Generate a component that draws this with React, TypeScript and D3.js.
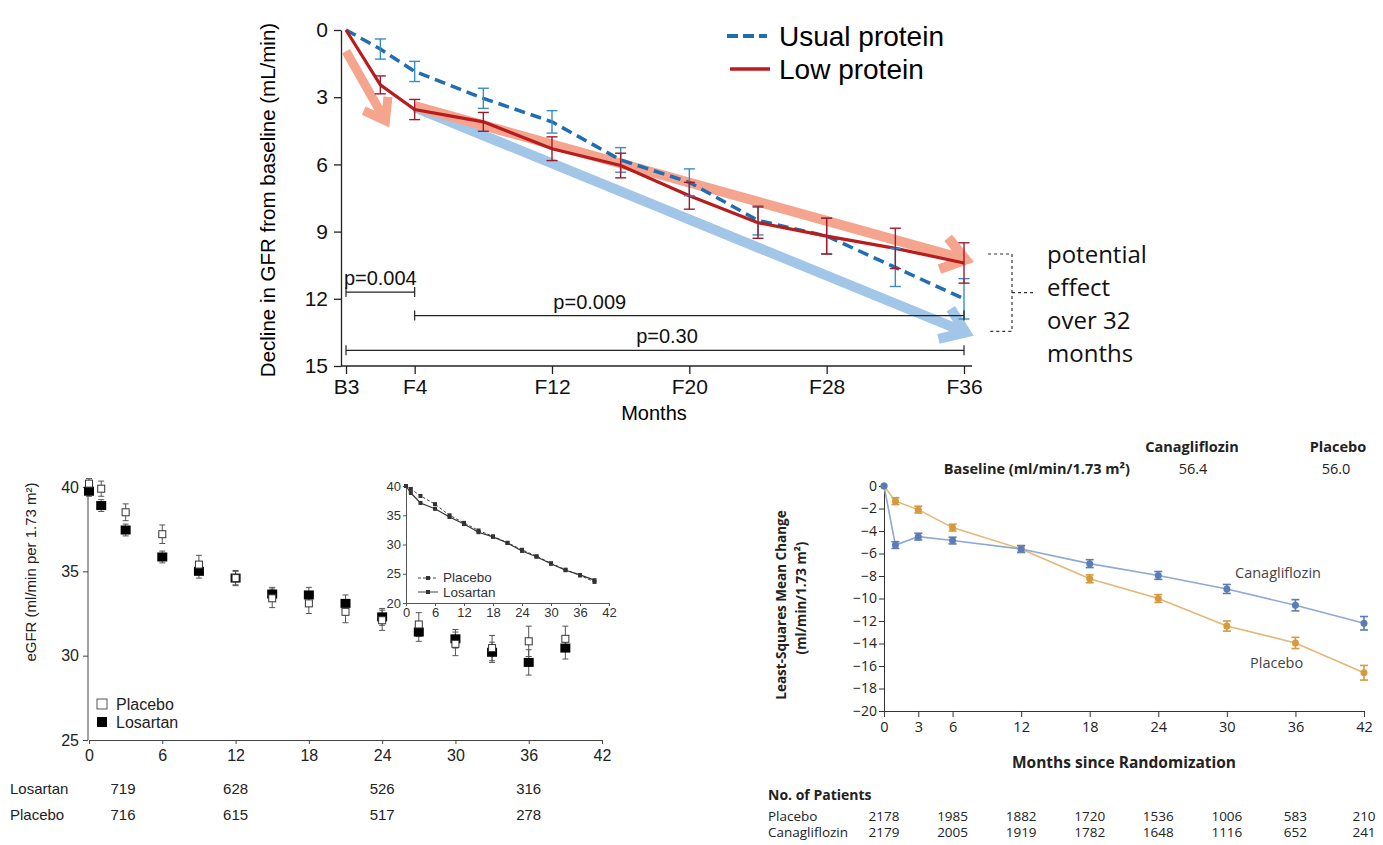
import React, { useRef, useEffect } from 'react'
import * as d3 from 'd3'

// ---- top panel: decline in GFR, usual vs low protein
const proteinMonths = [0, 2, 4, 8, 12, 16, 20, 24, 28, 32, 36]
const proteinTicks = [0, 4, 12, 20, 28, 36]
const proteinTickLabels = ['B3', 'F4', 'F12', 'F20', 'F28', 'F36']
const usualProtein = [0, 0.85, 1.85, 3.05, 4.1, 5.8, 6.8, 8.5, 9.2, 10.6, 12.0]
const usualProteinErr = [0, 0.45, 0.45, 0.45, 0.5, 0.55, 0.6, 0.65, 0.8, 0.85, 0.9]
const lowProtein = [0, 2.45, 3.55, 4.1, 5.3, 6.05, 7.4, 8.6, 9.2, 9.75, 10.4]
const lowProteinErr = [0, 0.4, 0.45, 0.42, 0.53, 0.55, 0.6, 0.7, 0.8, 0.9, 0.9]
const pLabels = ['p=0.004', 'p=0.009', 'p=0.30']
const pFrom = [0, 4, 0]
const pTo = [4, 36, 36]
const effectText = ['potential', 'effect', 'over 32', 'months']

// ---- bottom left: eGFR losartan vs placebo
const egfrMonths = [0, 1, 3, 6, 9, 12, 15, 18, 21, 24, 27, 30, 33, 36, 39]
const egfrPlacebo = [40.2, 39.9, 38.5, 37.2, 35.4, 34.6, 33.4, 33.1, 32.6, 32.1, 31.85, 30.7, 30.45, 30.85, 31.0]
const egfrPlaceboErr = [0.3, 0.45, 0.5, 0.55, 0.55, 0.45, 0.55, 0.6, 0.65, 0.6, 0.7, 0.7, 0.75, 0.9, 0.75]
const egfrLosartan = [39.75, 38.9, 37.45, 35.85, 35.0, 34.6, 33.65, 33.6, 33.1, 32.3, 31.4, 31.0, 30.2, 29.6, 30.45]
const egfrLosartanErr = [0.3, 0.35, 0.35, 0.35, 0.4, 0.4, 0.4, 0.45, 0.5, 0.5, 0.55, 0.55, 0.6, 0.75, 0.65]
const insetPlacebo = [40, 39.5, 38.3, 36.9, 35.0, 33.7, 32.4, 31.4, 30.3, 29.1, 28.0, 26.8, 25.7, 24.7, 23.6]
const insetLosartan = [40, 38.8, 37.1, 36.1, 34.7, 33.5, 32.1, 31.3, 30.25, 28.9, 27.9, 26.7, 25.6, 24.8, 23.9]
const riskMonths = [0, 12, 24, 36]
const riskLosartan = [719, 628, 526, 316]
const riskPlacebo = [716, 615, 517, 278]

// ---- bottom right: canagliflozin LS mean change
const canaMonths = [0, 1, 3, 6, 12, 18, 24, 30, 36, 42]
const canaTicks = [0, 3, 6, 12, 18, 24, 30, 36, 42]
const canagliflozin = [0, -5.25, -4.5, -4.85, -5.6, -6.9, -7.95, -9.15, -10.6, -12.2]
const canagliflozinErr = [0, 0.3, 0.3, 0.3, 0.3, 0.35, 0.35, 0.4, 0.5, 0.6]
const canaPlacebo = [0, -1.35, -2.1, -3.7, -5.6, -8.25, -10.0, -12.45, -13.95, -16.6]
const canaPlaceboErr = [0, 0.3, 0.3, 0.3, 0.3, 0.35, 0.35, 0.45, 0.5, 0.65]
const patientMonths = [0, 6, 12, 18, 24, 30, 36, 42]
const patientsPlacebo = [2178, 1985, 1882, 1720, 1536, 1006, 583, 210]
const patientsCana = [2179, 2005, 1919, 1782, 1648, 1116, 652, 241]

const arial = 'Liberation Sans, Arial, sans-serif'
const myriad = 'Open Sans, Lato, sans-serif'

function errBars(g, xs, vals, errs, x, y, color, cap, w) {
  vals.forEach((v, i) => {
    if (!errs[i]) return
    const cx = x(xs[i])
    const y1 = y(v - errs[i]), y2 = y(v + errs[i])
    g.append('line').attr('x1', cx).attr('x2', cx).attr('y1', y1).attr('y2', y2)
      .attr('stroke', color).attr('stroke-width', w)
    ;[y1, y2].forEach(yy => {
      g.append('line').attr('x1', cx - cap).attr('x2', cx + cap).attr('y1', yy).attr('y2', yy)
        .attr('stroke', color).attr('stroke-width', w)
    })
  })
}

function arrow(g, x1, y1, x2, y2, color, width, head) {
  const ang = Math.atan2(y2 - y1, x2 - x1)
  const a1 = ang + Math.PI - 0.62, a2 = ang + Math.PI + 0.62
  g.append('path')
    .attr('d', `M${x1},${y1}L${x2},${y2}M${x2 + head * Math.cos(a1)},${y2 + head * Math.sin(a1)}L${x2},${y2}L${x2 + head * Math.cos(a2)},${y2 + head * Math.sin(a2)}`)
    .attr('stroke', color).attr('stroke-width', width).attr('fill', 'none')
    .attr('stroke-linejoin', 'miter')
}

function drawProtein(g) {
  const x = d3.scaleLinear().domain([0, 36]).range([346, 964])
  const y = d3.scaleLinear().domain([0, 15]).range([30, 366])

  const yAxis = g.append('g').attr('transform', 'translate(341,0)')
    .call(d3.axisLeft(y).tickValues([0, 3, 6, 9, 12, 15]).tickSize(7).tickSizeOuter(0).tickPadding(6))
  yAxis.selectAll('text').attr('font-size', 21).attr('font-family', arial).attr('fill', '#111')
  yAxis.selectAll('line,path').attr('stroke', '#222').attr('stroke-width', 1.3)

  const xAxis = g.append('g').attr('transform', 'translate(0,366)')
    .call(d3.axisBottom(x).tickValues(proteinTicks).tickFormat((d, i) => proteinTickLabels[i]).tickSize(8).tickPadding(5))
  xAxis.select('.domain').remove()
  xAxis.selectAll('text').attr('font-size', 21).attr('font-family', arial).attr('fill', '#111')
  xAxis.selectAll('line').attr('stroke', '#222').attr('stroke-width', 1.3)
  g.append('line').attr('x1', 341).attr('x2', 972).attr('y1', 366).attr('y2', 366)
    .attr('stroke', '#222').attr('stroke-width', 1.3)

  g.append('text').attr('x', 654).attr('y', 420).attr('text-anchor', 'middle')
    .attr('font-family', arial).attr('font-size', 20).text('Months')
  g.append('text').attr('transform', 'translate(275,200) rotate(-90)').attr('text-anchor', 'middle')
    .attr('font-family', arial).attr('font-size', 20.5).text('Decline in GFR from baseline (mL/min)')

  // trend arrows
  arrow(g, x(0), y(0.95), x(2.3), y(4.05), '#f5a48e', 9, 24)
  arrow(g, x(4), y(3.45), x(36.1), y(13.5), '#a2c6e7', 10, 28)
  arrow(g, x(4), y(3.4), x(36.1), y(10.25), '#f5a48e', 10, 28)

  const line = d3.line().x((d, i) => x(proteinMonths[i])).y(d => y(d))
  g.append('path').datum(usualProtein).attr('d', line).attr('fill', 'none')
    .attr('stroke', '#1f6db3').attr('stroke-width', 3.5).attr('stroke-dasharray', '11,6')
  g.append('path').datum(lowProtein).attr('d', line).attr('fill', 'none')
    .attr('stroke', '#b81c1c').attr('stroke-width', 3.2)

  errBars(g, proteinMonths, usualProtein, usualProteinErr, x, y, '#3b8cc4', 5.5, 1.4)
  errBars(g, proteinMonths, lowProtein, lowProteinErr, x, y, '#9e1b2b', 5.5, 1.4)

  // p value brackets
  const levels = [11.7, 12.75, 14.3]
  const labelAt = [2, 14.2, 18.7]
  pLabels.forEach((lab, i) => {
    const yy = y(levels[i])
    g.append('line').attr('x1', x(pFrom[i])).attr('x2', x(pTo[i])).attr('y1', yy).attr('y2', yy)
      .attr('stroke', '#222').attr('stroke-width', 1.2)
    ;[pFrom[i], pTo[i]].forEach(m => {
      g.append('line').attr('x1', x(m)).attr('x2', x(m)).attr('y1', yy - 5).attr('y2', yy + 5)
        .attr('stroke', '#222').attr('stroke-width', 1.2)
    })
    g.append('text').attr('x', x(labelAt[i])).attr('y', yy - 7).attr('text-anchor', 'middle')
      .attr('font-family', arial).attr('font-size', 20).attr('fill', '#111').text(lab)
  })

  // dashed effect bracket
  const bt = y(10.0), bb = y(13.45), bm = (bt + bb) / 2
  g.append('path').attr('d', `M988,${bt}H1012V${bb}H988M1012,${bm}H1035`)
    .attr('fill', 'none').attr('stroke', '#333').attr('stroke-width', 1.2).attr('stroke-dasharray', '3,3')
  effectText.forEach((t, i) => {
    g.append('text').attr('x', 1047).attr('y', 263 + i * 33).attr('font-family', myriad)
      .attr('font-size', 24).attr('fill', '#111').text(t)
  })

  // legend
  g.append('line').attr('x1', 727).attr('x2', 767).attr('y1', 36).attr('y2', 36)
    .attr('stroke', '#1f6db3').attr('stroke-width', 4).attr('stroke-dasharray', '11,5')
  g.append('line').attr('x1', 730).attr('x2', 770).attr('y1', 69).attr('y2', 69)
    .attr('stroke', '#b81c1c').attr('stroke-width', 3.5)
  g.append('text').attr('x', 779).attr('y', 46).attr('font-family', arial).attr('font-size', 28).text('Usual protein')
  g.append('text').attr('x', 779).attr('y', 79).attr('font-family', arial).attr('font-size', 28).text('Low protein')
}

function drawLosartan(g) {
  const x = d3.scaleLinear().domain([0, 42]).range([89, 602])
  const y = d3.scaleLinear().domain([25, 40]).range([740, 487])

  const yAxis = g.append('g').attr('transform', 'translate(88,0)')
    .call(d3.axisLeft(y).tickValues([25, 30, 35, 40]).tickSize(5).tickSizeOuter(0).tickPadding(4))
  yAxis.select('.domain').attr('d', 'M0,483V740')
  yAxis.selectAll('text').attr('font-size', 16).attr('font-family', arial).attr('fill', '#222')
  yAxis.selectAll('line,path').attr('stroke', '#444')

  const xAxis = g.append('g').attr('transform', 'translate(0,740)')
    .call(d3.axisBottom(x).tickValues(d3.range(0, 43, 6)).tickSize(4).tickSizeOuter(0).tickPadding(6))
  xAxis.selectAll('text').attr('font-size', 16).attr('font-family', arial).attr('fill', '#222')
  xAxis.selectAll('line,path').attr('stroke', '#444')

  g.append('text').attr('transform', 'translate(36,572) rotate(-90)').attr('text-anchor', 'middle')
    .attr('font-family', arial).attr('font-size', 15).attr('fill', '#222').text('eGFR (ml/min per 1.73 m\u00B2)')

  errBars(g, egfrMonths, egfrLosartan, egfrLosartanErr, x, y, '#555', 3, 1)
  errBars(g, egfrMonths, egfrPlacebo, egfrPlaceboErr, x, y, '#555', 3, 1)
  g.selectAll('rect.los').data(egfrLosartan).join('rect').attr('class', 'los')
    .attr('x', (d, i) => x(egfrMonths[i]) - 5).attr('y', d => y(d) - 4.5)
    .attr('width', 10).attr('height', 9).attr('fill', '#000')
  g.selectAll('rect.pla').data(egfrPlacebo).join('rect').attr('class', 'pla')
    .attr('x', (d, i) => x(egfrMonths[i]) - 3.5).attr('y', d => y(d) - 3.5)
    .attr('width', 7).attr('height', 7).attr('fill', '#fff').attr('stroke', '#333').attr('stroke-width', 1)

  // legend
  g.append('rect').attr('x', 97).attr('y', 699).attr('width', 10).attr('height', 10)
    .attr('fill', '#fff').attr('stroke', '#555')
  g.append('rect').attr('x', 97).attr('y', 717).attr('width', 10).attr('height', 10).attr('fill', '#000')
  g.append('text').attr('x', 116).attr('y', 710).attr('font-family', arial).attr('font-size', 16).attr('fill', '#222').text('Placebo')
  g.append('text').attr('x', 116).attr('y', 728).attr('font-family', arial).attr('font-size', 16).attr('fill', '#222').text('Losartan')

  // numbers at risk
  g.append('text').attr('x', 10).attr('y', 794).attr('font-family', arial).attr('font-size', 15).attr('fill', '#222').text('Losartan')
  g.append('text').attr('x', 10).attr('y', 820).attr('font-family', arial).attr('font-size', 15).attr('fill', '#222').text('Placebo')
  riskMonths.forEach((m, i) => {
    const cx = i === 0 ? x(m) + 34 : x(m)
    g.append('text').attr('x', cx).attr('y', 794).attr('text-anchor', 'middle').attr('font-family', arial)
      .attr('font-size', 15).attr('fill', '#222').text(riskLosartan[i])
    g.append('text').attr('x', cx).attr('y', 820).attr('text-anchor', 'middle').attr('font-family', arial)
      .attr('font-size', 15).attr('fill', '#222').text(riskPlacebo[i])
  })

  // inset
  const xi = d3.scaleLinear().domain([0, 42]).range([406, 609])
  const yi = d3.scaleLinear().domain([20, 40]).range([603, 486])
  const iy = g.append('g').attr('transform', 'translate(406,0)')
    .call(d3.axisLeft(yi).tickValues([20, 25, 30, 35, 40]).tickSize(3).tickSizeOuter(0).tickPadding(2))
  iy.selectAll('text').attr('font-size', 13).attr('font-family', arial).attr('fill', '#333')
  iy.selectAll('line,path').attr('stroke', '#555')
  const ix = g.append('g').attr('transform', 'translate(0,603)')
    .call(d3.axisBottom(xi).tickValues(d3.range(0, 43, 6)).tickSize(3).tickSizeOuter(0).tickPadding(2))
  ix.selectAll('text').attr('font-size', 13).attr('font-family', arial).attr('fill', '#333')
  ix.selectAll('line,path').attr('stroke', '#555')

  const il = d3.line().x((d, i) => xi(egfrMonths[i])).y(d => yi(d))
  g.append('path').datum(insetPlacebo).attr('d', il).attr('fill', 'none').attr('stroke', '#444')
    .attr('stroke-width', 1).attr('stroke-dasharray', '3,2')
  g.append('path').datum(insetLosartan).attr('d', il).attr('fill', 'none').attr('stroke', '#333').attr('stroke-width', 1.2)
  ;[insetPlacebo, insetLosartan].forEach(arr => {
    arr.forEach((d, i) => {
      g.append('rect').attr('x', xi(egfrMonths[i]) - 2).attr('y', yi(d) - 2).attr('width', 4).attr('height', 4).attr('fill', '#333')
    })
  })
  g.append('line').attr('x1', 418).attr('x2', 438).attr('y1', 578).attr('y2', 578)
    .attr('stroke', '#444').attr('stroke-dasharray', '3,2')
  g.append('rect').attr('x', 426).attr('y', 576).attr('width', 4).attr('height', 4).attr('fill', '#333')
  g.append('line').attr('x1', 418).attr('x2', 438).attr('y1', 592).attr('y2', 592).attr('stroke', '#444')
  g.append('rect').attr('x', 426).attr('y', 590).attr('width', 4).attr('height', 4).attr('fill', '#333')
  g.append('text').attr('x', 443).attr('y', 582).attr('font-family', arial).attr('font-size', 13.5).attr('fill', '#333').text('Placebo')
  g.append('text').attr('x', 443).attr('y', 597).attr('font-family', arial).attr('font-size', 13.5).attr('fill', '#333').text('Losartan')
}

function drawCana(g) {
  const x = d3.scaleLinear().domain([0, 42]).range([884, 1364])
  const y = d3.scaleLinear().domain([-20, 0]).range([711, 486])
  const blue = '#8ea9d2', blueDot = '#5b7db5', orange = '#e5b676', orangeDot = '#d69a3e'

  const yAxis = g.append('g').attr('transform', 'translate(884,0)')
    .call(d3.axisLeft(y).tickValues(d3.range(-20, 1, 2)).tickSize(5).tickSizeOuter(0).tickPadding(2)
      .tickFormat(d => d === 0 ? '0' : '\u2212' + Math.abs(d)))
  yAxis.selectAll('text').attr('font-size', 14).attr('font-family', myriad).attr('fill', '#222')
  yAxis.selectAll('line,path').attr('stroke', '#333')
  const xAxis = g.append('g').attr('transform', 'translate(0,711)')
    .call(d3.axisBottom(x).tickValues(canaTicks).tickSize(6).tickSizeOuter(0).tickPadding(5))
  xAxis.selectAll('text').attr('font-size', 14.5).attr('font-family', myriad).attr('fill', '#222')
  xAxis.selectAll('line,path').attr('stroke', '#333')

  g.append('text').attr('x', x(21)).attr('y', 768).attr('text-anchor', 'middle').attr('font-family', myriad)
    .attr('font-weight', 'bold').attr('font-size', 15.5).attr('fill', '#222').text('Months since Randomization')
  g.append('text').attr('transform', 'translate(786,605) rotate(-90)').attr('text-anchor', 'middle')
    .attr('font-family', myriad).attr('font-weight', 'bold').attr('font-size', 13.5).attr('fill', '#222')
    .text('Least-Squares Mean Change')
  g.append('text').attr('transform', 'translate(806,598) rotate(-90)').attr('text-anchor', 'middle')
    .attr('font-family', myriad).attr('font-weight', 'bold').attr('font-size', 13.5).attr('fill', '#222')
    .text('(ml/min/1.73 m\u00B2)')

  // header
  const hdr = (t, xx, yy, anchor, bold) => g.append('text').attr('x', xx).attr('y', yy)
    .attr('text-anchor', anchor).attr('font-family', myriad).attr('font-weight', bold ? 'bold' : 'normal')
    .attr('font-size', 14.5).attr('fill', '#222').text(t)
  hdr('Canagliflozin', 1192, 452, 'middle', true)
  hdr('Placebo', 1338, 452, 'middle', true)
  hdr('Baseline (ml/min/1.73 m\u00B2)', 1130, 474, 'end', true)
  hdr('56.4', 1193, 474, 'middle', false)
  hdr('56.0', 1336, 474, 'middle', false)

  const line = d3.line().x((d, i) => x(canaMonths[i])).y(d => y(d))
  g.append('path').datum(canaPlacebo).attr('d', line).attr('fill', 'none').attr('stroke', orange).attr('stroke-width', 1.6)
  g.append('path').datum(canagliflozin).attr('d', line).attr('fill', 'none').attr('stroke', blue).attr('stroke-width', 1.6)
  errBars(g, canaMonths, canaPlacebo, canaPlaceboErr, x, y, orangeDot, 4, 1.6)
  errBars(g, canaMonths, canagliflozin, canagliflozinErr, x, y, blueDot, 4, 1.6)
  g.selectAll('circle.pl').data(canaPlacebo).join('circle').attr('class', 'pl')
    .attr('cx', (d, i) => x(canaMonths[i])).attr('cy', d => y(d)).attr('r', 3.5).attr('fill', orangeDot)
  g.selectAll('circle.ca').data(canagliflozin).join('circle').attr('class', 'ca')
    .attr('cx', (d, i) => x(canaMonths[i])).attr('cy', d => y(d)).attr('r', 3.5).attr('fill', blueDot)

  g.append('text').attr('x', 1235).attr('y', 578).attr('font-family', myriad).attr('font-size', 14.5)
    .attr('fill', '#444').text('Canagliflozin')
  g.append('text').attr('x', 1250).attr('y', 668).attr('font-family', myriad).attr('font-size', 14.5)
    .attr('fill', '#444').text('Placebo')

  // patients table
  g.append('text').attr('x', 768).attr('y', 800).attr('font-family', myriad).attr('font-weight', 'bold')
    .attr('font-size', 14).attr('fill', '#222').text('No. of Patients')
  g.append('text').attr('x', 768).attr('y', 821).attr('font-family', myriad).attr('font-size', 13.5).attr('fill', '#222').text('Placebo')
  g.append('text').attr('x', 768).attr('y', 837).attr('font-family', myriad).attr('font-size', 13.5).attr('fill', '#222').text('Canagliflozin')
  patientMonths.forEach((m, i) => {
    g.append('text').attr('x', x(m)).attr('y', 821).attr('text-anchor', 'middle').attr('font-family', myriad)
      .attr('font-size', 13.5).attr('fill', '#222').text(patientsPlacebo[i])
    g.append('text').attr('x', x(m)).attr('y', 837).attr('text-anchor', 'middle').attr('font-family', myriad)
      .attr('font-size', 13.5).attr('fill', '#222').text(patientsCana[i])
  })
}

export default function App() {
  const ref = useRef(null)
  useEffect(() => {
    const svg = d3.select(ref.current)
    svg.selectAll('*').remove()
    drawProtein(svg.append('g'))
    drawLosartan(svg.append('g'))
    drawCana(svg.append('g'))
  }, [])
  return (
    <svg ref={ref} width={1383} height={845}
      style={{ position: 'absolute', left: 0, top: 0, background: '#fff' }} />
  )
}
